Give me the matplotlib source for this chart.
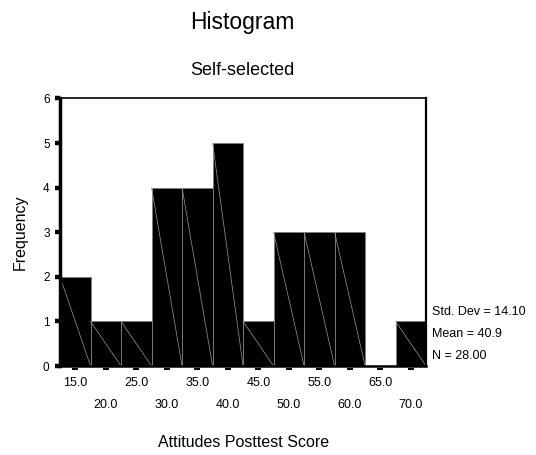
import numpy as np
import matplotlib
matplotlib.use('Agg')
import matplotlib.pyplot as plt

# bin midpoints and counts
binCenters = [15.0, 20.0, 25.0, 30.0, 35.0, 40.0, 45.0, 50.0, 55.0, 60.0, 65.0, 70.0]
frequencies = [2, 1, 1, 4, 4, 5, 1, 3, 3, 3, 0, 1]
binWidth = 5.0
statLines = ['Std. Dev = 14.10', 'Mean = 40.9', 'N = 28.00']

plt.rcParams['font.family'] = ['Liberation Sans', 'DejaVu Sans']

fig = plt.figure(figsize=(5.36, 4.55), dpi=100)
ax = fig.add_axes([0.112, 0.1956, 0.683, 0.588])

ax.bar(binCenters, frequencies, width=binWidth, color='black',
       edgecolor='#808080', linewidth=0.6, zorder=2)
# faint diagonal inside each bar (top-left to bottom-right)
for c, f in zip(binCenters, frequencies):
    if f > 0:
        ax.plot([c - binWidth / 2, c + binWidth / 2], [f, 0], color='#9a9a9a',
                linewidth=0.5, zorder=3)

ax.set_xlim(binCenters[0] - binWidth / 2, binCenters[-1] + binWidth / 2)
ax.set_ylim(0, 6)

for side, lw in [('left', 2.5), ('top', 1.2), ('right', 1.6), ('bottom', 1.8)]:
    ax.spines[side].set_linewidth(lw)
    ax.spines[side].set_zorder(4)

ax.set_yticks(range(7))
ax.tick_params(axis='y', direction='out', length=3.5, width=3.2, labelsize=8.5, pad=4)

# small dashes under each bin midpoint, slightly detached from the axis
ax.plot(binCenters, [-0.012] * len(binCenters), linestyle='none', marker='_',
        markersize=4, markeredgewidth=1.5, color='black',
        transform=ax.get_xaxis_transform(), clip_on=False)

ax.set_xticks(binCenters[0::2])
ax.set_xticklabels(['%.1f' % v for v in binCenters[0::2]])
ax.set_xticks(binCenters[1::2], minor=True)
ax.set_xticklabels(['%.1f' % v for v in binCenters[1::2]], minor=True)
ax.tick_params(axis='x', which='both', length=0, labelsize=9)
ax.tick_params(axis='x', which='major', pad=8)
ax.tick_params(axis='x', which='minor', pad=24)

ax.set_ylabel('Frequency', fontsize=11.5, labelpad=11)
ax.set_xlabel('Attitudes Posttest Score', fontsize=11.5, labelpad=17)

fig.text(0.452, 0.950, 'Histogram', ha='center', va='center', fontsize=16.5)
fig.text(0.452, 0.845, 'Self-selected', ha='center', va='center', fontsize=13)

for i, s in enumerate(statLines):
    fig.text(0.806, 0.315 - i * 0.049, s, ha='left', va='center', fontsize=9)

fig.savefig('out.png', dpi=100)
